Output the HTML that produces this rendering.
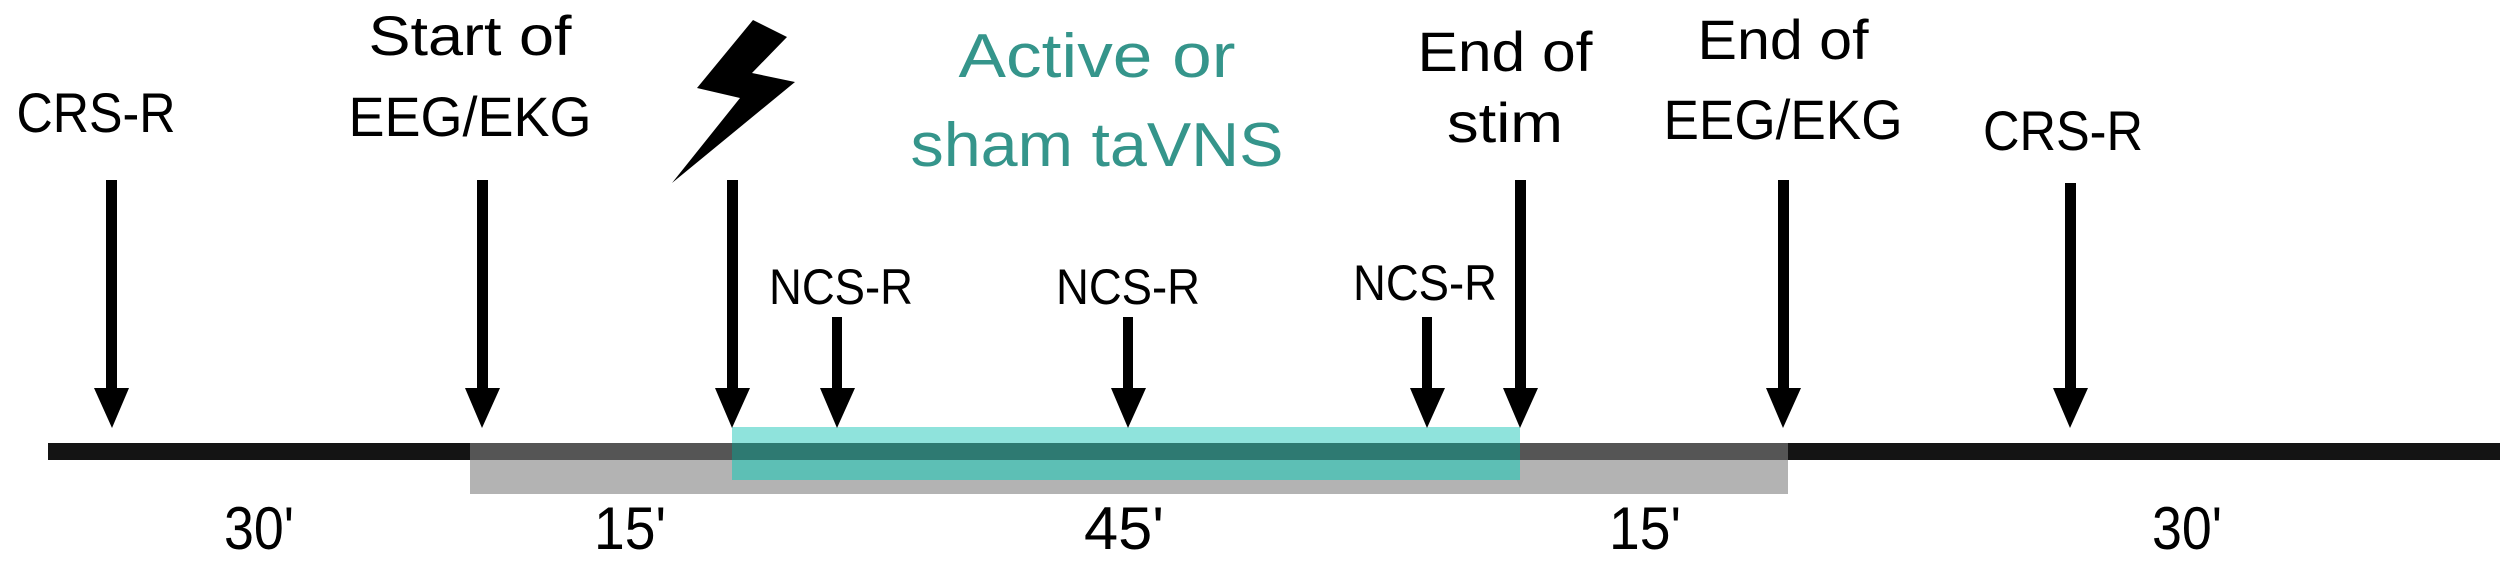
<!DOCTYPE html>
<html><head><meta charset="utf-8"><style>
html,body{margin:0;padding:0;background:#fff;}
svg{display:block;}
text{font-family:"Liberation Sans",sans-serif;}
</style></head><body>
<svg width="2500" height="574" viewBox="0 0 2500 574" xmlns="http://www.w3.org/2000/svg">
<!-- timeline -->
<rect x="48" y="443" width="2452" height="17" fill="#141414"/>
<rect x="470" y="443" width="1318" height="17" fill="#555"/>
<rect x="470" y="460" width="1318" height="34" fill="#b3b3b3"/>
<rect x="732" y="427" width="788" height="16" fill="#8fe3dc"/>
<rect x="732" y="443" width="788" height="17" fill="#2e7a72"/>
<rect x="732" y="460" width="788" height="20" fill="#5dbfb5"/>
<!-- arrows -->
<g fill="#000">
<rect x="106" y="180" width="11" height="210"/><polygon points="94,388 129,388 112,428"/>
<rect x="477" y="180" width="11" height="210"/><polygon points="465,388 500,388 482,428"/>
<rect x="727" y="180" width="11" height="210"/><polygon points="715,388 750,388 732,428"/>
<rect x="832" y="317" width="10" height="73"/><polygon points="820,388 855,388 837,428"/>
<rect x="1123" y="317" width="10" height="73"/><polygon points="1111,388 1146,388 1128,428"/>
<rect x="1422" y="317" width="10" height="73"/><polygon points="1410,388 1445,388 1427,428"/>
<rect x="1515" y="180" width="11" height="210"/><polygon points="1503,388 1538,388 1520,428"/>
<rect x="1778" y="180" width="11" height="210"/><polygon points="1766,388 1801,388 1783,428"/>
<rect x="2065" y="183" width="11" height="207"/><polygon points="2053,388 2088,388 2070,428"/>
<polygon points="753,20 787,37 752,73 795,82 672,183 740,98 697,88"/>
</g>
<!-- labels -->
<g fill="#000" text-anchor="middle" font-size="56">
<text x="96" y="132" textLength="159" lengthAdjust="spacingAndGlyphs">CRS-R</text>
<text x="470" y="55" textLength="203" lengthAdjust="spacingAndGlyphs">Start of</text>
<text x="470" y="136" textLength="243" lengthAdjust="spacingAndGlyphs">EEG/EKG</text>
<text x="1505" y="71" textLength="175" lengthAdjust="spacingAndGlyphs">End of</text>
<text x="1505" y="142" textLength="116" lengthAdjust="spacingAndGlyphs">stim</text>
<text x="1783" y="59" textLength="171" lengthAdjust="spacingAndGlyphs">End of</text>
<text x="1783" y="139" textLength="239" lengthAdjust="spacingAndGlyphs">EEG/EKG</text>
<text x="2063" y="150" textLength="160" lengthAdjust="spacingAndGlyphs">CRS-R</text>
</g>
<g fill="#000" text-anchor="middle" font-size="50">
<text x="841" y="304" textLength="144" lengthAdjust="spacingAndGlyphs">NCS-R</text>
<text x="1128" y="304" textLength="144" lengthAdjust="spacingAndGlyphs">NCS-R</text>
<text x="1425" y="300" textLength="144" lengthAdjust="spacingAndGlyphs">NCS-R</text>
</g>
<g fill="#35958b" text-anchor="middle" font-size="62">
<text x="1097" y="77" textLength="277" lengthAdjust="spacingAndGlyphs">Active or</text>
<text x="1097" y="166" textLength="373" lengthAdjust="spacingAndGlyphs">sham taVNS</text>
</g>
<g fill="#000" text-anchor="middle" font-size="60">
<text x="259" y="549" textLength="70" lengthAdjust="spacingAndGlyphs">30'</text>
<text x="630" y="549" textLength="72" lengthAdjust="spacingAndGlyphs">15'</text>
<text x="1124" y="549" textLength="80" lengthAdjust="spacingAndGlyphs">45'</text>
<text x="1645" y="549" textLength="72" lengthAdjust="spacingAndGlyphs">15'</text>
<text x="2187" y="549" textLength="70" lengthAdjust="spacingAndGlyphs">30'</text>
</g>
</svg>
</body></html>
